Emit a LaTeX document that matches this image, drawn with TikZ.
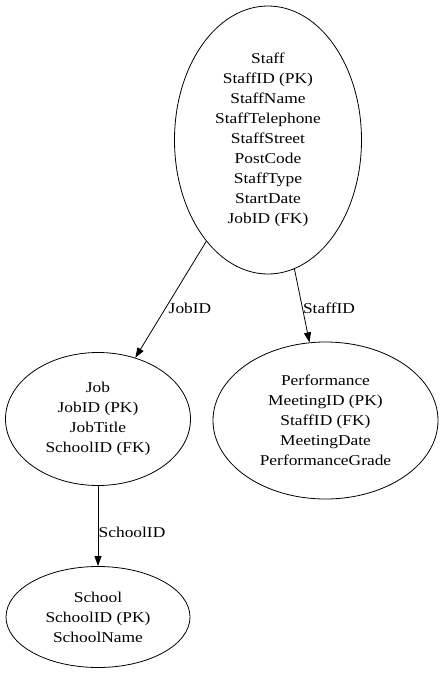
\documentclass[tikz,border=0pt]{standalone}
\usepackage{fontspec}
\setmainfont{Liberation Serif}[FakeStretch=1.16]
\usetikzlibrary{shapes.geometric,arrows.meta}
\begin{document}
\begin{tikzpicture}[x=1pt,y=-1pt,
  entity/.style={draw,ellipse,inner sep=0pt,align=center,line width=0.8pt,
    font=\fontsize{15}{20}\selectfont},
  rel/.style={draw,line width=0.8pt,-{Triangle[length=10pt,width=7pt]}},
  lbl/.style={inner sep=0pt,font=\fontsize{15}{20}\selectfont}]
\useasboundingbox (0,0) rectangle (443,673);
\node[entity,minimum width=187pt,minimum height=268pt] (staff) at (268,140)
  {Staff\\StaffID (PK)\\StaffName\\StaffTelephone\\StaffStreet\\PostCode\\StaffType\\StartDate\\JobID (FK)};
\node[entity,minimum width=185pt,minimum height=133pt] (job) at (98,419)
  {Job\\JobID (PK)\\JobTitle\\SchoolID (FK)};
\node[entity,minimum width=225pt,minimum height=157pt] (perf) at (325.5,420.5)
  {Performance\\MeetingID (PK)\\StaffID (FK)\\MeetingDate\\PerformanceGrade};
\node[entity,minimum width=184pt,minimum height=101pt] (school) at (98,617)
  {School\\SchoolID (PK)\\SchoolName};
\path[rel] (staff) -- (job);
\path[rel] (staff) -- (perf);
\path[rel] (job) -- (school);
\node[lbl] (l1) at (190,308) {JobID};
\node[lbl] (l2) at (329,308) {StaffID};
\node[lbl] (l3) at (132,532) {SchoolID};
\end{tikzpicture}
\end{document}
